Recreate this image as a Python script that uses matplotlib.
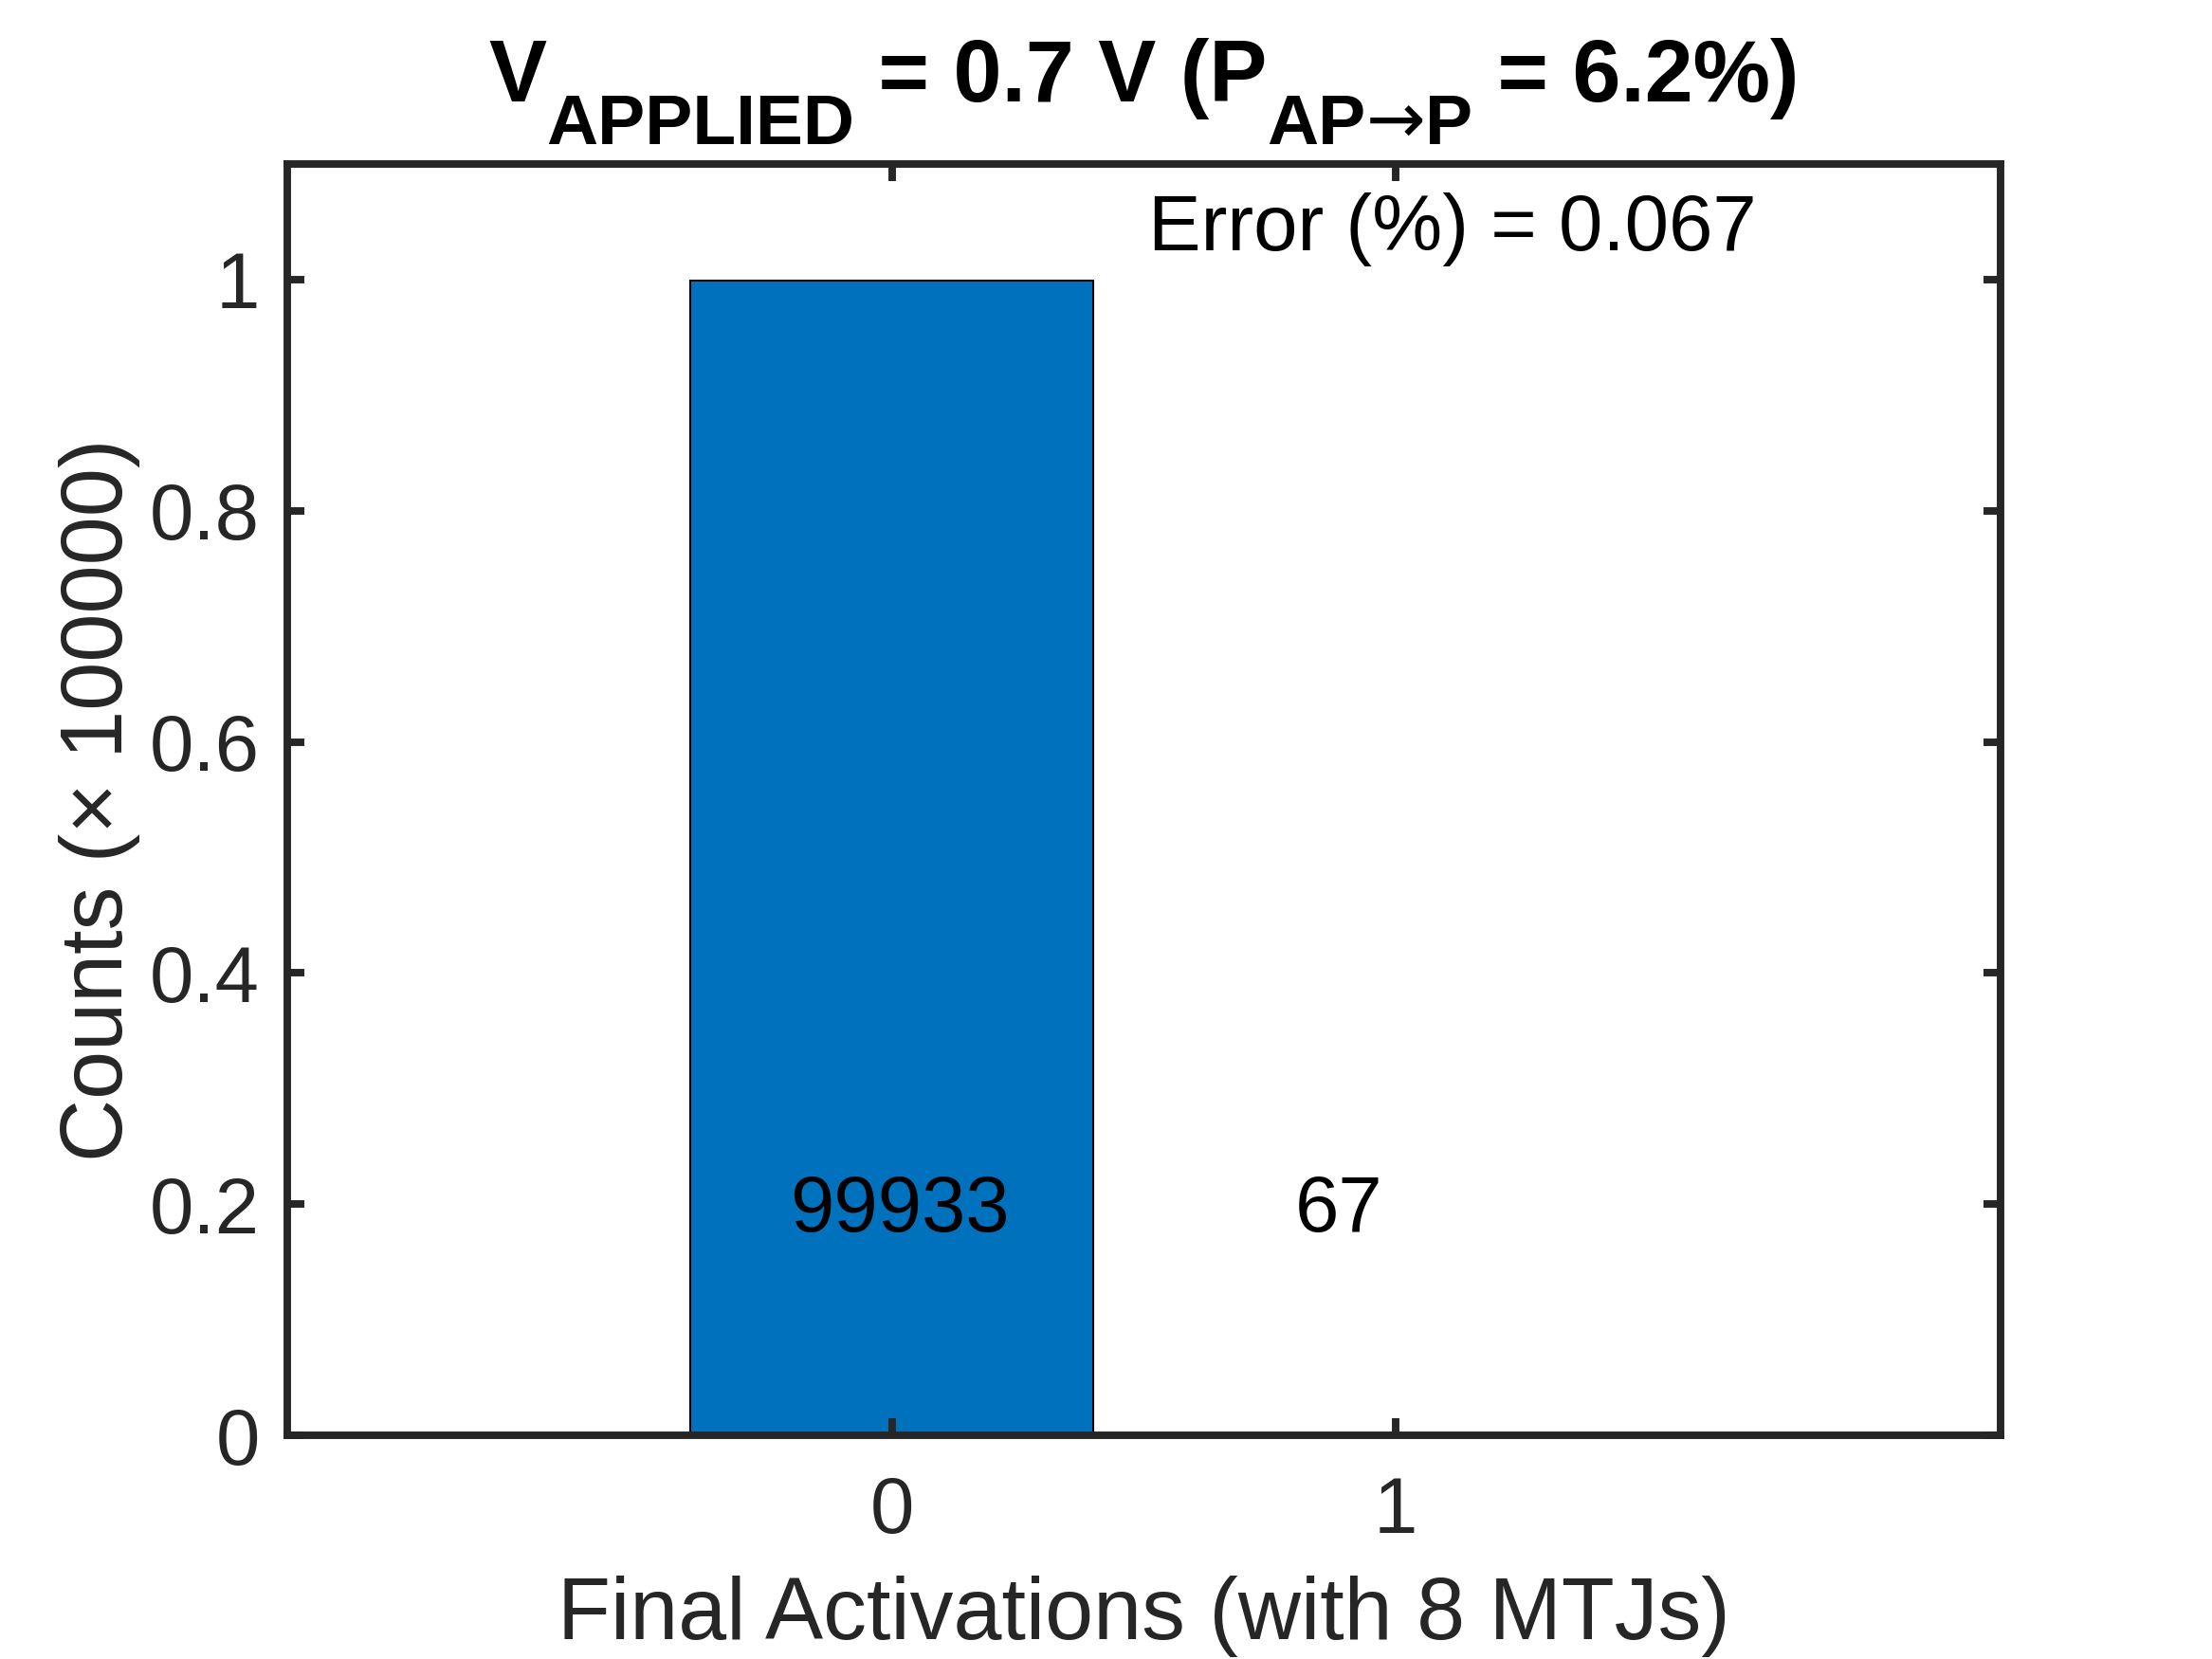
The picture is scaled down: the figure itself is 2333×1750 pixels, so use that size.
import numpy as np
import matplotlib
matplotlib.use("Agg")
from matplotlib import pyplot as plt

# data
activations = [0, 1]
counts = [99933, 67]
scale = 100000
error_pct = 0.067
ytick_vals = [0, 0.2, 0.4, 0.6, 0.8, 1]
ytick_labels = ["0", "0.2", "0.4", "0.6", "0.8", "1"]

plt.rcParams['font.family'] = ['Liberation Sans', 'DejaVu Sans']
dark = '#262626'

fig = plt.figure(figsize=(2333 / 300, 1750 / 300), dpi=300)
ax = fig.add_axes([303 / 2333, 1 - 1514 / 1750, 1807 / 2333, 1341 / 1750])

heights = np.array(counts) / scale
ax.bar(activations, heights, width=0.8, color='#0072BD', edgecolor='black', linewidth=0.5)

for x, c, dx in zip(activations, counts, [0.015, -0.113]):
    ax.text(x + dx, 0.194, str(c), ha='center', va='center', fontsize=20, color='black')

ax.text(0.508, 1.043, "Error (%) = " + str(error_pct), ha='left', va='center', fontsize=20, color='black')

ax.set_xlim(-1.2, 2.2)
ax.set_ylim(0, 1.1)
ax.set_xticks(activations)
ax.set_xticklabels([str(a) for a in activations])
ax.set_yticks(ytick_vals)
ax.set_yticklabels(ytick_labels)

ax.tick_params(direction='in', length=4.3, width=1.9, colors=dark, labelsize=20, top=True, right=True)
ax.tick_params(axis='x', pad=10)
ax.tick_params(axis='y', pad=7)
for s in ax.spines.values():
    s.set_linewidth(1.9)
    s.set_color(dark)

ax.set_xlabel("Final Activations (with 8 MTJs)", fontsize=22, color=dark)
ax.set_ylabel("Counts (\u00d7 100000)", fontsize=22, color=dark)
ax.xaxis.set_label_coords(0.5, -0.11)
ax.yaxis.set_label_coords(-0.086, 0.5)

# title with subscripts, built piece by piece
pieces = [
    ("V", 22, 0, 'bold', 'Liberation Sans'),
    ("APPLIED", 18, -45, 'bold', 'Liberation Sans'),
    (" = 0.7 V (P", 22, 0, 'bold', 'Liberation Sans'),
    ("AP", 18, -45, 'bold', 'Liberation Sans'),
    ("\u2192", 18, -45, 'normal', 'DejaVu Sans'),
    ("P", 18, -45, 'bold', 'Liberation Sans'),
    (" = 6.2%)", 22, 0, 'bold', 'Liberation Sans'),
]
renderer = fig.canvas.get_renderer()
x0 = 512
base = 1750 - 107
arts = []
xp = x0
for txt, fs, dy, w, fam in pieces:
    t = fig.text(xp / 2333, (base + dy) / 1750, txt, fontsize=fs, fontweight=w,
                 family=fam, ha='left', va='baseline', color='black')
    bb = t.get_window_extent(renderer)
    xp += bb.width
    arts.append(t)
# recentre over axes
total = xp - x0
shift = (1206 - total / 2) - x0
for t in arts:
    px, py = t.get_position()
    t.set_position((px + shift / 2333, py))

fig.savefig("out.png", dpi=300)
